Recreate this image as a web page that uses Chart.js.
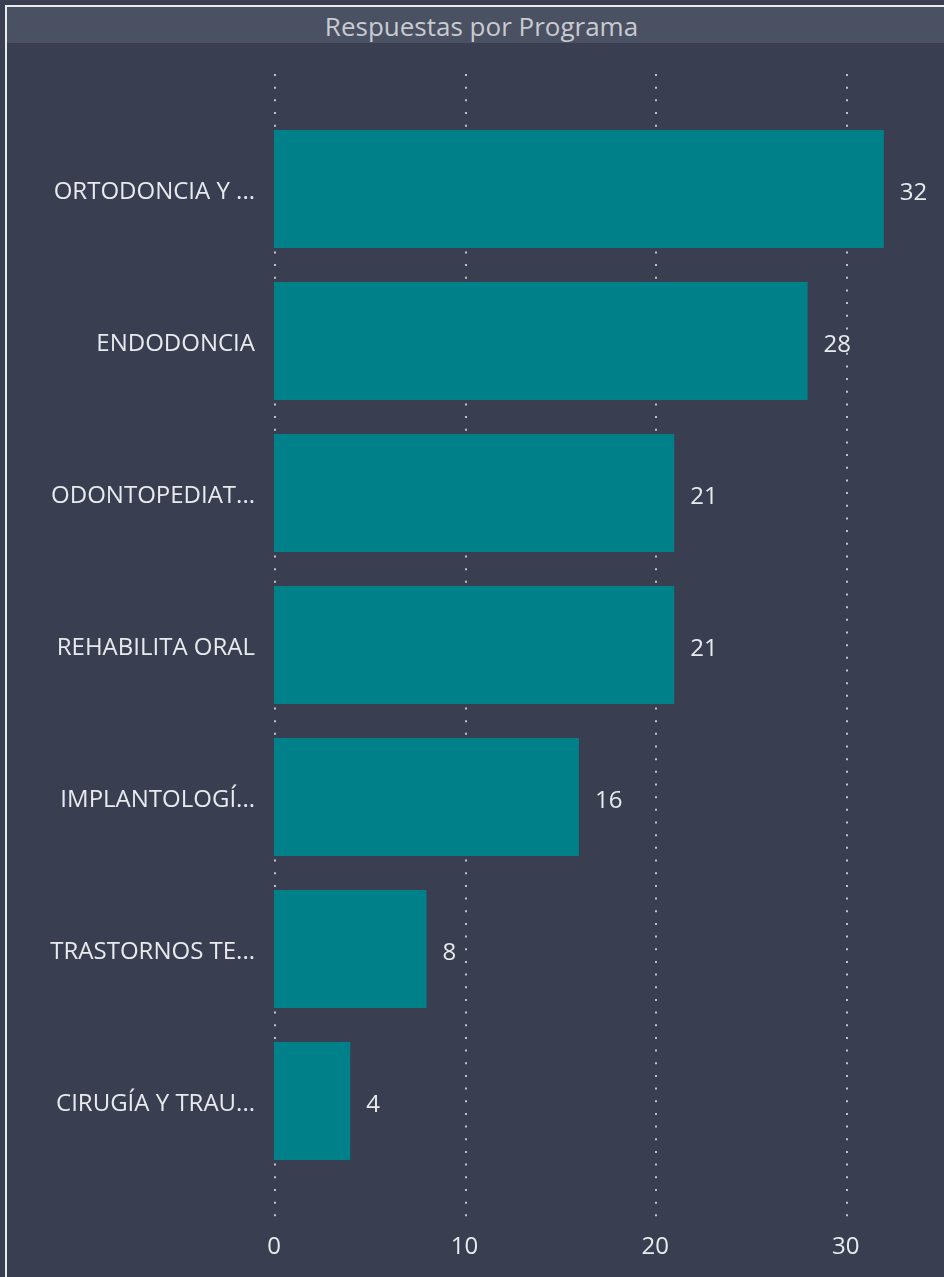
<!DOCTYPE html>
<html>
<head>
<meta charset="utf-8">
<script src="https://cdn.jsdelivr.net/npm/chart.js@4.4.1/dist/chart.umd.min.js"></script>
<style>
  html, body { margin: 0; padding: 0; background: #393f51; width: 944px; height: 1277px; overflow: hidden; }
  #frame { position: absolute; left: 5px; top: 5px; width: 960px; height: 1300px; border-top: 2px solid #e8eaee; border-left: 2px solid #e8eaee; box-sizing: border-box; }
  #band { position: absolute; left: 7px; top: 7px; width: 949px; height: 36px; background: #4a5162; color: #c9cbd0; font-family: "Open Sans", sans-serif; font-size: 26px; text-align: center; line-height: 38px; }
  #wrap { position: absolute; left: 0; top: 0; width: 944px; height: 1277px; }
</style>
</head>
<body>
<div id="frame"></div>
<div id="band">Respuestas por Programa</div>
<div id="wrap"><canvas id="c"></canvas></div>
<script>
const categories = ["ORTODONCIA Y ...", "ENDODONCIA", "ODONTOPEDIAT...", "REHABILITA ORAL", "IMPLANTOLOGÍ...", "TRASTORNOS TE...", "CIRUGÍA Y TRAU..."];
const respuestas = [32, 28, 21, 21, 16, 8, 4];
const xTicks = [0, 10, 20, 30];

const textColor = "#e8eaee";
const fontFamily = "'Open Sans', sans-serif";

const dottedGrid = {
  id: "dottedGrid",
  beforeDatasetsDraw(chart) {
    const sx = chart.scales.x;
    const ctx = chart.ctx;
    ctx.save();
    ctx.strokeStyle = "rgba(215,218,225,0.85)";
    ctx.lineWidth = 2;
    ctx.setLineDash([2, 10.67]);
    xTicks.forEach(v => {
      const x = Math.round(sx.getPixelForValue(v)) + 1;
      ctx.beginPath();
      ctx.moveTo(x, 74);
      ctx.lineTo(x, 1224);
      ctx.stroke();
    });
    ctx.restore();
  }
};

const valueLabels = {
  id: "valueLabels",
  afterDatasetsDraw(chart) {
    const ctx = chart.ctx;
    const meta = chart.getDatasetMeta(0);
    ctx.save();
    ctx.fillStyle = textColor;
    ctx.font = "24px " + fontFamily;
    ctx.textAlign = "left";
    ctx.textBaseline = "middle";
    meta.data.forEach((bar, i) => {
      ctx.fillText(String(respuestas[i]), bar.x + 16, bar.y + 4);
    });
    ctx.restore();
  }
};

new Chart(document.getElementById("c"), {
  type: "bar",
  data: {
    labels: categories,
    datasets: [{
      data: respuestas,
      backgroundColor: "#00818a",
      borderWidth: 0,
      categoryPercentage: 1,
      barPercentage: 0.776
    }]
  },
  options: {
    indexAxis: "y",
    responsive: true,
    maintainAspectRatio: false,
    animation: false,
    layout: { padding: { top: 113, bottom: 17, left: 0, right: 3 } },
    plugins: { legend: { display: false }, tooltip: { enabled: false }, title: { display: false } },
    scales: {
      x: {
        min: 0, max: 35,
        afterBuildTicks: axis => { axis.ticks = xTicks.map(v => ({ value: v })); },
        afterFit: axis => { axis.height = 83; },
        grid: { display: false, drawTicks: false },
        border: { display: false },
        ticks: { color: textColor, font: { family: fontFamily, size: 24 }, padding: 56, maxRotation: 0 }
      },
      y: {
        afterFit: axis => { axis.width = 274; },
        grid: { display: false, drawTicks: false },
        border: { display: false },
        ticks: { color: textColor, font: { family: fontFamily, size: 24 }, padding: 19, labelOffset: 3 }
      }
    }
  },
  plugins: [dottedGrid, valueLabels]
});
</script>
</body>
</html>
